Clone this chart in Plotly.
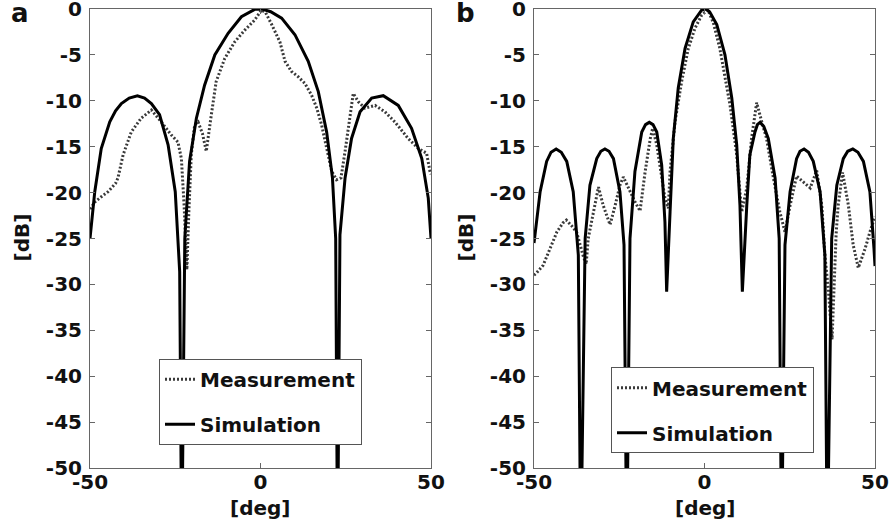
import plotly.graph_objects as go

# ---------------- data ----------------
# Panel a - simulation
sim_a_x = [-50, -48.6, -46.7, -44.2, -42.5, -40.8, -38.5, -36.1, -34.0, -32.0, -29.6, -27.1,
           -25.0, -23.7, -23.1, -22.2, -20.8, -18.8, -16.4, -13.4, -9.5, -5.6, -1.7, 0.5,
           3.0, 6.2, 10.1, 14.0, 16.95, 19.4, 21.1, 22.05, 22.6, 23.3, 24.8, 26.7, 29.2,
           32.6, 36.0, 40.4, 44.3, 47.3, 49.2, 50]
sim_a_y = [-25.0, -19.9, -15.2, -12.3, -11.1, -10.3, -9.7, -9.45, -9.7, -10.3, -11.5, -14.8,
           -19.9, -28.6, -60.0, -25.0, -16.6, -11.9, -8.3, -5.0, -2.65, -0.84, -0.04, 0.0,
           -0.3, -1.0, -2.8, -5.7, -9.0, -13.4, -18.4, -25.0, -60.0, -24.6, -18.4, -14.1, -11.2,
           -9.7, -9.44, -10.5, -13.0, -16.3, -20.6, -25.0]

# Panel a - measurement
meas_a_x = [-50, -48.5, -46.5, -44.7, -42.5, -41.8, -40.3, -37.9, -35.0, -32.0, -29.1, -26.2,
            -24.2, -23.2, -22.4, -21.6, -21.0, -20.3, -19.3, -18.3, -17.0, -15.9, -14.6, -13.0,
            -10.5, -7.6, -4.6, -1.7, 0.3, 1.5, 3.3, 5.7, 7.2, 9.1, 11.1, 13.0, 15.0, 16.5,
            17.9, 19.4, 20.9, 22.3, 23.6, 24.8, 26.2, 27.2, 28.7, 30.6, 33.6, 36.5, 39.4,
            43.3, 46.3, 48.7, 49.7, 50]
meas_a_y = [-21.8, -21.0, -20.4, -19.9, -19.0, -18.4, -15.9, -13.4, -11.9, -11.0, -12.3, -13.7,
            -14.5, -16.3, -21.4, -28.4, -22.0, -15.9, -12.6, -12.3, -13.6, -15.5, -12.0, -7.9,
            -5.4, -3.6, -2.3, -1.2, -0.1, -0.4, -1.7, -3.6, -5.7, -6.8, -7.4, -8.1, -9.4, -10.8,
            -12.6, -15.2, -17.7, -18.6, -18.4, -15.5, -11.5, -9.2, -10.1, -10.8, -10.5, -11.2, -12.3,
            -14.1, -15.2, -15.7, -17.7, -18.0]

# Panel b - simulation
sim_b_x = [-50, -49.7, -48.2, -46.3, -45.0, -43.5, -42.0, -40.4, -38.5, -37.0, -36.3, -35.0,
           -33.6, -31.6, -30.4, -29.2, -28.0, -26.7, -24.8, -23.6, -22.8, -21.85, -20.4, -18.4,
           -17.3, -16.2, -15.1, -14.0, -12.55, -11.6, -11.1, -10.1, -9.15, -7.7, -5.7, -3.3,
           -0.8, 0.3, 1.5, 3.6, 6.0, 8.0, 9.45, 10.4, 11.1, 12.4, 13.3, 14.8, 15.5, 16.3, 17.4,
           18.7, 20.7, 21.9, 22.6, 23.6, 25.1, 27.0, 28.0, 29.2, 30.5, 31.9, 33.9, 35.3, 36.0,
           37.3, 38.8, 40.7, 42.0, 43.5, 45.0, 46.6, 48.5, 49.7, 50]
sim_b_y = [-25.5, -24.6, -19.9, -16.6, -15.6, -15.25, -15.6, -16.6, -19.9, -26.8, -60.0, -25.0,
           -19.2, -16.3, -15.5, -15.25, -15.5, -16.3, -19.9, -25.7, -60.0, -25.0, -17.7, -13.4,
           -12.6, -12.35, -12.6, -13.4, -17.0, -23.2, -30.8, -22.1, -14.1, -8.6, -4.3, -1.4,
           -0.1, 0.0, -0.3, -1.7, -5.0, -9.7, -14.8, -21.4, -30.8, -21.4, -15.9, -13.4, -12.6, -12.35, -12.8,
           -14.1, -18.4, -25.0, -60.0, -25.7, -19.9, -16.3, -15.5, -15.25, -15.6, -16.6, -19.9, -26.8, -60.0,
           -25.0, -19.2, -16.3, -15.5, -15.25, -15.6, -16.6, -19.9, -26.1, -28.0]

# Panel b - measurement
meas_b_x = [-50, -49.4, -47.3, -45.3, -43.3, -41.5, -40.5, -39.0, -37.5, -35.5, -34.7, -34.1,
            -32.6, -31.1, -29.7, -27.7, -26.2, -24.8, -23.8, -21.8, -20.4, -18.9, -17.4, -15.9,
            -15.2, -14.0, -12.5, -11.6, -10.6, -10.1, -8.65, -6.7, -4.75, -2.8, -0.8, 1.0, 2.6,
            4.5, 7.5, 9.45, 10.9, 12.4, 13.8, 15.3, 16.8, 18.2, 20.2, 22.1, 23.6, 25.1, 27.0,
            29.0, 31.0, 32.9, 34.4, 35.3, 36.3, 37.4, 38.2, 38.6, 39.2, 40.5, 42.2, 43.6, 45.1,
            47.1, 48.5, 49.7, 50]
meas_b_y = [-29.0, -28.8, -27.9, -26.1, -24.3, -23.3, -23.0, -23.6, -24.3, -27.0, -27.8, -25.0,
            -22.1, -19.4, -21.4, -23.5, -21.4, -19.2, -18.3, -19.9, -21.0, -22.0, -17.7, -14.1,
            -13.0, -14.8, -18.4, -20.6, -21.7, -17.7, -12.3, -7.9, -4.3, -2.1, -0.65, -0.1, -1.5,
            -4.3, -10.5, -15.9, -22.1, -19.5, -14.1, -10.2, -12.3, -14.1, -18.4, -22.1, -24.3, -21.4, -18.2,
            -18.8, -19.5, -17.6, -21.4, -26.8, -30.5, -36.0, -28.0, -24.5, -21.4, -17.8, -21.4, -25.7, -28.2,
            -26.1, -24.3, -22.8, -22.6]

x_ticks = [-50, 0, 50]
x_tick_text = ["-50", "0", "50"]
y_ticks = [0, -5, -10, -15, -20, -25, -30, -35, -40, -45, -50]
y_tick_text = ["0", "-5", "-10", "-15", "-20", "-25", "-30", "-35", "-40", "-45", "-50"]
names = ["Measurement", "Simulation"]
panel_labels = ["a", "b"]
x_title = "[deg]"
y_title = "[dB]"

# ---------------- figure ----------------
W, H = 892, 524
FONT = "DejaVu Sans"
TXT = "#111111"

fig = go.Figure()

meas_line = dict(color="#3a3a3a", width=3, dash="2px,2px")
sim_line = dict(color="#000000", width=3)

fig.add_trace(go.Scatter(x=meas_a_x, y=meas_a_y, mode="lines", name=names[0], line=meas_line,
                         xaxis="x", yaxis="y", legend="legend", legendgroup="m"))
fig.add_trace(go.Scatter(x=sim_a_x, y=sim_a_y, mode="lines", name=names[1], line=sim_line,
                         xaxis="x", yaxis="y", legend="legend", legendgroup="s"))
fig.add_trace(go.Scatter(x=meas_b_x, y=meas_b_y, mode="lines", name=names[0], line=meas_line,
                         xaxis="x2", yaxis="y2", legend="legend2", legendgroup="m2"))
fig.add_trace(go.Scatter(x=sim_b_x, y=sim_b_y, mode="lines", name=names[1], line=sim_line,
                         xaxis="x2", yaxis="y2", legend="legend2", legendgroup="s2"))

tickfont = dict(family=FONT, size=20, color=TXT, weight="bold")
common_x = dict(range=[-50, 50], tickvals=x_ticks, ticktext=x_tick_text, ticks="inside",
                ticklen=5, tickcolor="#666", showline=True, linecolor="#666", linewidth=1,
                mirror="ticks", showgrid=False, zeroline=False, tickfont=tickfont,
                ticklabelstandoff=-4, automargin=False, ticklabeloverflow="allow")
common_y = dict(range=[-50, 0], tickvals=y_ticks, ticktext=y_tick_text, ticks="inside",
                ticklen=5, tickcolor="#666", showline=True, linecolor="#666", linewidth=1,
                mirror="ticks", showgrid=False, zeroline=False, tickfont=tickfont,
                ticklabelstandoff=3, automargin=False, ticklabeloverflow="allow")

ydom = [1 - 468 / H, 1 - 9 / H]
fig.update_layout(
    width=W, height=H,
    margin=dict(l=0, r=0, t=0, b=0, autoexpand=False),
    paper_bgcolor="white", plot_bgcolor="white",
    xaxis=dict(domain=[90 / W, 431 / W], anchor="y", **common_x),
    yaxis=dict(domain=ydom, anchor="x", **common_y),
    xaxis2=dict(domain=[534 / W, 875 / W], anchor="y2", **common_x),
    yaxis2=dict(domain=ydom, anchor="x2", **common_y),
    legend=dict(x=159 / W, y=1 - 358.7 / H, xanchor="left", yanchor="top",
                bgcolor="white", bordercolor="#555", borderwidth=1,
                font=dict(family=FONT, size=20, color=TXT, weight="bold"),
                traceorder="grouped", tracegroupgap=16),
    legend2=dict(x=611 / W, y=1 - 367.3 / H, xanchor="left", yanchor="top",
                 bgcolor="white", bordercolor="#555", borderwidth=1,
                 font=dict(family=FONT, size=20, color=TXT, weight="bold"),
                 traceorder="grouped", tracegroupgap=16),
    showlegend=True,
)

ann_font = dict(family=FONT, size=20, color=TXT, weight="bold")
for lab, xc in zip(panel_labels, [19.5, 465]):
    fig.add_annotation(text=lab, x=xc / W, y=1 - 13 / H, xref="paper", yref="paper",
                       xanchor="center", yanchor="middle", showarrow=False,
                       font=dict(family=FONT, size=26, color=TXT, weight="bold"))
for xc in [21, 465]:
    fig.add_annotation(text=y_title, x=xc / W, y=1 - 237.5 / H, xref="paper", yref="paper",
                       xanchor="center", yanchor="middle", showarrow=False, textangle=-90,
                       font=ann_font)
for xc in [260, 704.5]:
    fig.add_annotation(text=x_title, x=xc / W, y=1 - 508 / H, xref="paper", yref="paper",
                       xanchor="center", yanchor="middle", showarrow=False, font=ann_font)

fig.write_html("out.html")
